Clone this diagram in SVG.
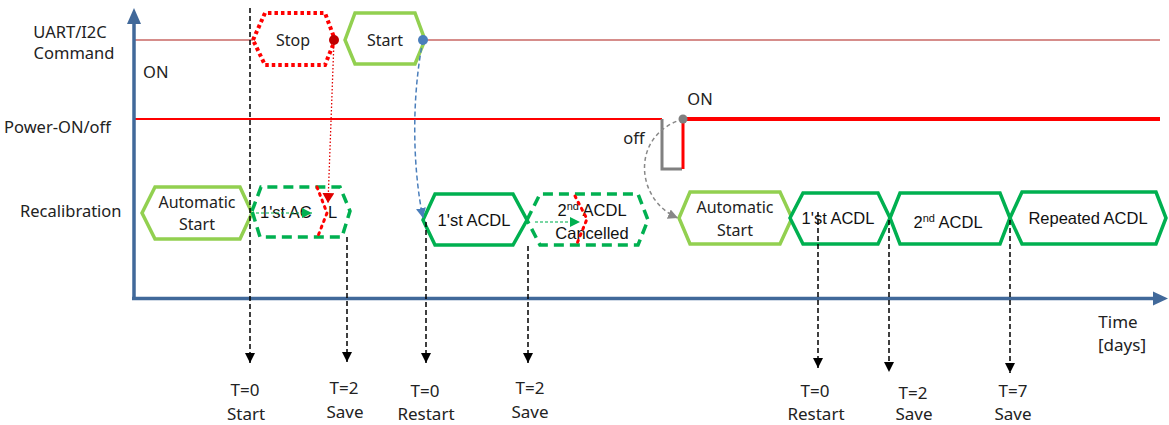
<svg xmlns="http://www.w3.org/2000/svg" width="1169" height="425" viewBox="0 0 1169 425">
<style>
.lbl{font-family:"Noto Sans","Open Sans",sans-serif;font-size:16.5px;fill:#222}
.ht{font-family:"Liberation Sans",Arial,sans-serif;font-size:16.5px;fill:#111;text-anchor:middle}
.hs{font-family:"Noto Sans","Open Sans",sans-serif;font-size:16px;fill:#222;text-anchor:middle}
.tl{font-family:"Noto Sans","Open Sans",sans-serif;font-size:17px;fill:#222;text-anchor:middle}
.lg{fill:#fff;stroke:#92d050;stroke-width:3.5}
.dg{fill:#fff;stroke:#00b050;stroke-width:3.5}
.dgd{fill:#fff;stroke:#00b050;stroke-width:3.5;stroke-dasharray:10 6}
.vd{fill:none;stroke:#000;stroke-width:1.5;stroke-dasharray:5 3}
.rdot{fill:none;stroke:#ff0000;stroke-width:3;stroke-dasharray:2 5;stroke-linecap:round}
</style>
<defs>
<marker id="ab" markerUnits="userSpaceOnUse" markerWidth="10" markerHeight="10" refX="10" refY="5" orient="auto"><path d="M0,0 L10,5 L0,10 z" fill="#000"/></marker>
<marker id="ar" markerUnits="userSpaceOnUse" markerWidth="10" markerHeight="12" refX="10" refY="6" orient="auto"><path d="M0,0 L10,6 L0,12 z" fill="#e00000"/></marker>
<marker id="abl" markerUnits="userSpaceOnUse" markerWidth="10" markerHeight="10" refX="10" refY="5" orient="auto"><path d="M0,0 L10,5 L0,10 z" fill="#4a7ebb"/></marker>
<marker id="agr" markerUnits="userSpaceOnUse" markerWidth="10" markerHeight="10" refX="10" refY="5" orient="auto"><path d="M0,0 L10,5 L0,10 z" fill="#888"/></marker>
<marker id="ag" markerUnits="userSpaceOnUse" markerWidth="10" markerHeight="10" refX="10" refY="5" orient="auto"><path d="M0,0 L10,5 L0,10 z" fill="#00b050"/></marker>
</defs>
<rect width="1169" height="425" fill="#fff"/>

<g id="labels">
<text class="lbl" x="70" y="38" text-anchor="middle">UART/I2C</text>
<text class="lbl" x="74" y="59" text-anchor="middle">Command</text>
<text class="lbl" x="143" y="78">ON</text>
<text class="lbl" x="4" y="133">Power-ON/off</text>
<text class="lbl" x="20" y="217">Recalibration</text>
<text class="lbl" x="700" y="105" text-anchor="middle">ON</text>
<text class="lbl" x="634" y="144" text-anchor="middle">off</text>
<text class="tl" x="1118" y="328">Time</text>
<text class="tl" x="1122" y="351">[days]</text>
</g>

<g id="signals">
<path d="M134,40 H253 M427,40 H1160" stroke="#c0504d" stroke-opacity="0.65" stroke-width="1.8" fill="none"/>
<path d="M134,119 H662" stroke="#ff0000" stroke-width="2" fill="none"/>
<path d="M662,119 V169 H682" stroke="#808080" stroke-width="3" fill="none"/>
<path d="M683,169 V119" stroke="#ff0000" stroke-width="3" fill="none"/>
<path d="M686,119 H1160" stroke="#ff0000" stroke-width="4" fill="none"/>
</g>

<g id="axes">
<path d="M134,299 V22" stroke="#41699a" stroke-width="3.5" fill="none"/>
<path d="M127,24 L134,8 L141,24 z" fill="#41699a"/>
<path d="M132,298.5 H1154" stroke="#41699a" stroke-width="3.5" fill="none"/>
<path d="M1153,291.5 L1168,298.5 L1153,305.5 z" fill="#41699a"/>
</g>

<g id="node-stop">
<polygon points="253,40 265,13 325,13 335,40 325,65 265,65" fill="#fff" stroke="#ff0000" stroke-width="4" stroke-dasharray="3.5 3"/>
<text class="hs" x="293" y="46">Stop</text>
</g>
<g id="node-start">
<polygon class="lg" points="345,40 355,13 415,13 425,40 415,64 355,64"/>
<text class="hs" x="385" y="46">Start</text>
</g>

<g id="node-auto1">
<polygon class="lg" points="142,213 155,187 240,187 252,213 240,239 155,239"/>
<text class="hs" x="197" y="208">Automatic</text>
<text class="hs" x="197" y="230">Start</text>
</g>
<g id="node-acdl1">
<polygon class="dgd" points="252,211 261,187 340,187 350,211 342,237 260,237"/>
<text class="ht" x="260" y="218" style="text-anchor:start">1'st AC<tspan x="328">L</tspan></text>
<path d="M256,213 H312" stroke="#00b050" stroke-opacity="0.7" stroke-width="1.3" stroke-dasharray="3 2" marker-end="url(#ag)"/>
<path class="rdot" d="M317,187 L327,213 L318,236"/>
</g>
<g id="node-acdl2">
<polygon class="dg" points="423,220 435,194 513,194 527,220 513,245 435,245"/>
<text class="ht" x="474" y="226">1'st ACDL</text>
</g>
<g id="node-cancel">
<polygon class="dgd" points="527,220 540,194 638,194 648,220 638,245 540,245"/>
<text class="ht" x="592" y="216">2<tspan font-size="11" dy="-6">nd</tspan><tspan dy="6"> ACDL</tspan></text>
<text class="ht" x="592" y="239">Cancelled</text>
<path d="M535,222 H580" stroke="#00b050" stroke-opacity="0.7" stroke-width="1.3" stroke-dasharray="3 2" marker-end="url(#ag)"/>
<path class="rdot" d="M575,196 L587,219 L576,246"/>
</g>
<g id="node-auto2">
<polygon class="lg" points="679,218 690,192 780,192 792,218 780,244 690,244"/>
<text class="hs" x="735" y="213">Automatic</text>
<text class="hs" x="735" y="236">Start</text>
</g>
<g id="node-acdl3">
<polygon class="dg" points="790,218 803,193 878,193 890,218 878,244 803,244"/>
<text class="ht" x="838" y="224">1'st ACDL</text>
</g>
<g id="node-acdl4">
<polygon class="dg" points="890,218 900,193 1000,193 1010,218 1000,244 900,244"/>
<text class="ht" x="948" y="228">2<tspan font-size="11" dy="-6">nd</tspan><tspan dy="6"> ACDL</tspan></text>
</g>
<g id="node-repeat">
<polygon class="dg" points="1010,218 1022,192 1156,192 1166,218 1156,244 1022,244"/>
<text class="ht" x="1088" y="224">Repeated ACDL</text>
</g>

<g id="connectors">
<path class="vd" d="M250,8 V363" marker-end="url(#ab)"/>
<path class="vd" d="M347,237 V362" marker-end="url(#ab)"/>
<path class="vd" d="M426,222 V363" marker-end="url(#ab)"/>
<path class="vd" d="M528,246 V363" marker-end="url(#ab)"/>
<path class="vd" d="M818,212 V368" marker-end="url(#ab)"/>
<path class="vd" d="M889,220 V372" marker-end="url(#ab)"/>
<path class="vd" d="M1010,220 V373" marker-end="url(#ab)"/>
<path d="M423,40 C411,100 413,170 423,218" fill="none" stroke="#4a7ebb" stroke-width="1.5" stroke-dasharray="5 3" marker-end="url(#abl)"/>
<path d="M683,119 C630,135 635,200 678,218" fill="none" stroke="#888" stroke-width="1.5" stroke-dasharray="4 3" marker-end="url(#agr)"/>
<path d="M334,40 L328,203" fill="none" stroke="#e00000" stroke-width="1.3" stroke-dasharray="1.5 2" marker-end="url(#ar)"/>
</g>

<g id="dots">
<circle cx="334" cy="40" r="5" fill="#c00000"/>
<circle cx="423" cy="40" r="5" fill="#4a7ebb"/>
<circle cx="683" cy="119" r="4.5" fill="#808080"/>
</g>

<g id="time-labels">
<text class="tl" x="245" y="396">T=0</text>
<text class="tl" x="246" y="420">Start</text>
<text class="tl" x="344" y="394">T=2</text>
<text class="tl" x="345" y="418">Save</text>
<text class="tl" x="425" y="397">T=0</text>
<text class="tl" x="426" y="420">Restart</text>
<text class="tl" x="530" y="394">T=2</text>
<text class="tl" x="530" y="418">Save</text>
<text class="tl" x="815" y="397">T=0</text>
<text class="tl" x="816" y="420">Restart</text>
<text class="tl" x="913" y="399">T=2</text>
<text class="tl" x="914" y="420">Save</text>
<text class="tl" x="1013" y="397">T=7</text>
<text class="tl" x="1013" y="420">Save</text>
</g>
</svg>
